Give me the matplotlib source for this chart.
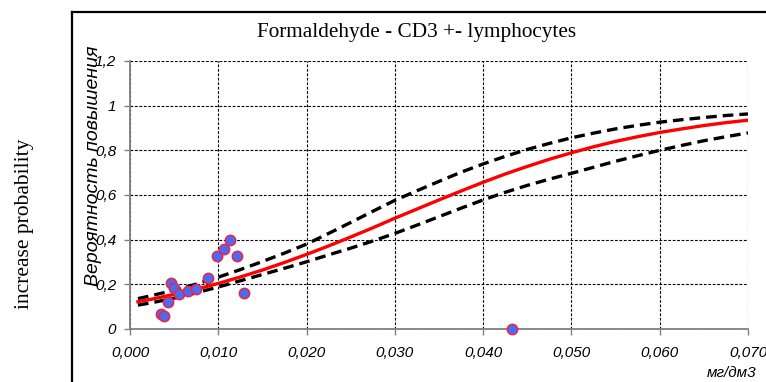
import numpy as np
import matplotlib
matplotlib.use('Agg')
import matplotlib.pyplot as plt
from matplotlib.lines import Line2D
from matplotlib.ticker import FuncFormatter

# observed points
obs_x = [0.00348, 0.00388, 0.00427, 0.00468, 0.00502, 0.00551, 0.00657, 0.00747,
         0.00887, 0.00988, 0.0106, 0.01136, 0.01212, 0.01295, 0.0433]
obs_y = [0.066, 0.060, 0.121, 0.207, 0.183, 0.157, 0.170, 0.180,
         0.227, 0.327, 0.357, 0.397, 0.327, 0.162, 0.0]

# fitted curve and confidence bands
curve_x = [0.0009, 0.0025, 0.005, 0.0075, 0.010, 0.0125, 0.015, 0.0175, 0.020, 0.0225,
           0.025, 0.0275, 0.030, 0.0325, 0.035, 0.0375, 0.040, 0.0425, 0.045, 0.0475,
           0.050, 0.0525, 0.055, 0.0575, 0.060, 0.0625, 0.065, 0.0675, 0.070]
fit = [0.122, 0.134, 0.155, 0.178, 0.204, 0.233, 0.264, 0.298, 0.334, 0.372,
       0.412, 0.453, 0.496, 0.537, 0.578, 0.618, 0.657, 0.694, 0.728, 0.760,
       0.789, 0.816, 0.840, 0.861, 0.880, 0.896, 0.911, 0.924, 0.935]
upper = [0.136, 0.150, 0.174, 0.201, 0.232, 0.266, 0.302, 0.340, 0.380, 0.428,
         0.477, 0.527, 0.576, 0.619, 0.661, 0.702, 0.739, 0.773, 0.804, 0.831,
         0.856, 0.877, 0.896, 0.912, 0.926, 0.937, 0.947, 0.956, 0.963]
lower = [0.107, 0.118, 0.138, 0.162, 0.188, 0.216, 0.244, 0.272, 0.301, 0.332,
         0.362, 0.394, 0.428, 0.465, 0.503, 0.541, 0.578, 0.612, 0.643, 0.671,
         0.697, 0.724, 0.751, 0.776, 0.800, 0.822, 0.843, 0.861, 0.878]

x_ticks = [0.0, 0.01, 0.02, 0.03, 0.04, 0.05, 0.06, 0.07]
y_ticks = [0, 0.2, 0.4, 0.6, 0.8, 1.0, 1.2]

title = 'Formaldehyde - CD3 +- lymphocytes'
outer_label = 'increase probability'
y_label = 'Вероятность повышения'
x_unit = 'мг/дм3'

W, H = 766, 382
fig = plt.figure(figsize=(W / 100, H / 100), dpi=100)
ax = fig.add_axes([130 / W, 1 - 329 / H, (748 - 130) / W, (329 - 61) / H])

ax.plot(curve_x, upper, color='black', lw=2.4, dashes=(3.2, 1.8))
ax.plot(curve_x, lower, color='black', lw=2.4, dashes=(3.2, 1.8))
ax.plot(curve_x, fit, color='#ff0000', lw=2.4)
ax.scatter(obs_x, obs_y, s=55, facecolor='#4a6cf5', edgecolor='#ee2244',
           linewidth=1.1, zorder=5, clip_on=False)

ax.set_xlim(0, 0.07)
ax.set_ylim(0, 1.2)
ax.set_xticks(x_ticks)
ax.set_yticks(y_ticks)

def fmt_x(v, pos):
    return ('%.3f' % v).replace('.', ',')

def fmt_y(v, pos):
    s = ('%.1f' % v).rstrip('0').rstrip('.')
    return s.replace('.', ',')

ax.xaxis.set_major_formatter(FuncFormatter(fmt_x))
ax.yaxis.set_major_formatter(FuncFormatter(fmt_y))

for lab in ax.get_xticklabels() + ax.get_yticklabels():
    lab.set_fontfamily('Liberation Sans')
    lab.set_fontstyle('italic')
    lab.set_fontsize(11)

ax.grid(True, color='black', lw=0.8, linestyle=(0, (2.5, 1.5)))
ax.set_axisbelow(True)
for side in ['top', 'right']:
    ax.spines[side].set_visible(False)
for side in ['left', 'bottom']:
    ax.spines[side].set_color('#808080')
    ax.spines[side].set_linewidth(1.3)
ax.tick_params(axis='both', direction='out', length=4, width=1, color='#808080')
ax.tick_params(axis='x', pad=8)
ax.tick_params(axis='y', pad=6)
ax.patch.set_alpha(0)

# frame lines around the figure
fig.add_artist(Line2D([72 / W, 72 / W], [0, 1 - 12 / H], color='black', lw=1.6))
fig.add_artist(Line2D([72 / W, 1], [1 - 12 / H, 1 - 12 / H], color='black', lw=1.6))

fig.text(417 / W, 1 - 33 / H, title, ha='center', va='center',
         family='Liberation Serif', size=15.3)
fig.text(25 / W, 1 - 224 / H, outer_label, ha='center', va='center', rotation=90,
         family='Liberation Serif', size=15.5)
fig.text(93 / W, 1 - 166 / H, y_label, ha='center', va='center', rotation=90,
         family='Liberation Sans', style='italic', size=14)
fig.text(707 / W, 1 - 373 / H, x_unit, ha='left', va='center',
         family='Liberation Sans', style='italic', size=11)

fig.savefig('out.png', dpi=100)
